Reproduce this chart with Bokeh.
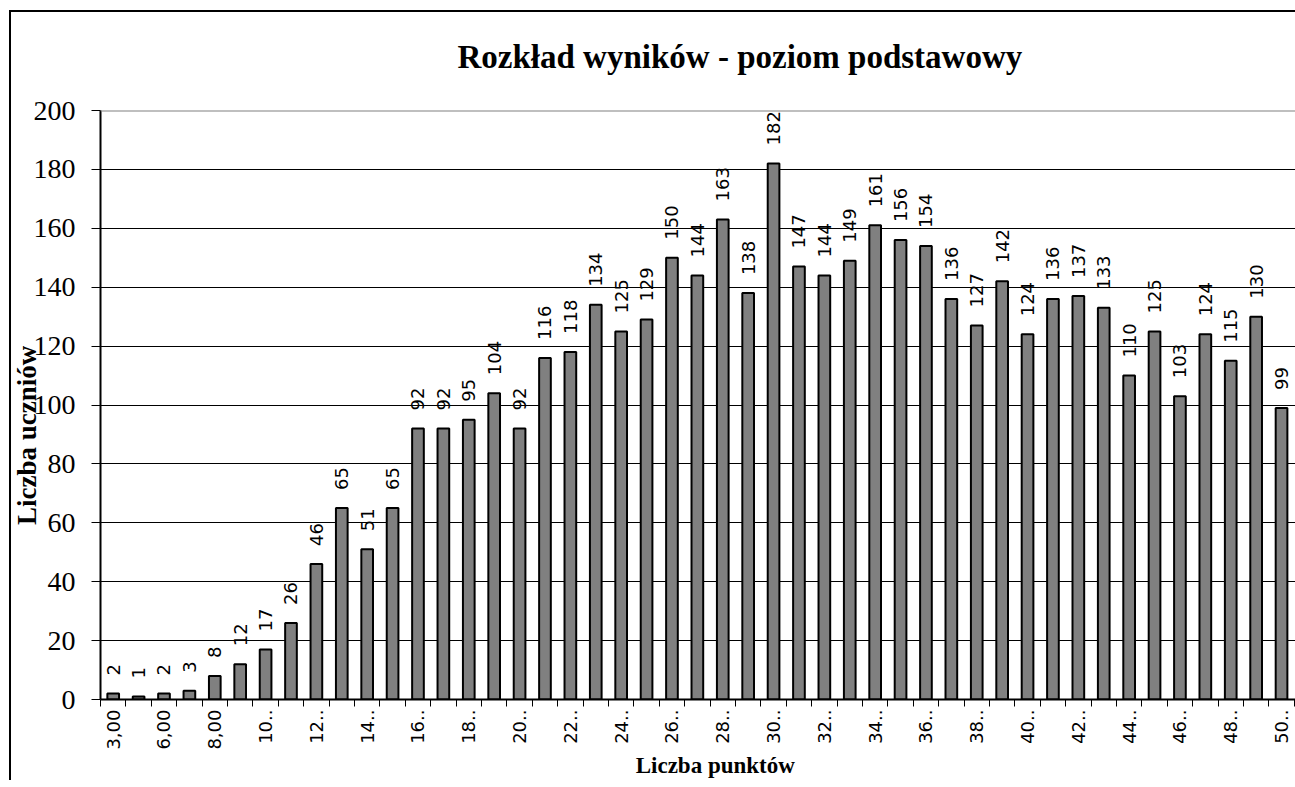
import math
from bokeh.plotting import figure
from bokeh.models import FixedTicker, Span, ColumnDataSource, Range1d, Title
from bokeh.embed import file_html
from bokeh.resources import INLINE
from bokeh.core.properties import value

# ---- data ----
categories = ["3,00", "4,00", "6,00", "7,00", "8,00", "9,00", "10,00", "11,00", "12,00", "13,00",
              "14,00", "15,00", "16,00", "17,00", "18,00", "19,00", "20,00", "21,00", "22,00", "23,00",
              "24,00", "25,00", "26,00", "27,00", "28,00", "29,00", "30,00", "31,00", "32,00", "33,00",
              "34,00", "35,00", "36,00", "37,00", "38,00", "39,00", "40,00", "41,00", "42,00", "43,00",
              "44,00", "45,00", "46,00", "47,00", "48,00", "49,00", "50,00"]
counts = [2, 1, 2, 3, 8, 12, 17, 26, 46, 65, 51, 65, 92, 92, 95, 104, 92, 116, 118, 134,
          125, 129, 150, 144, 163, 138, 182, 147, 144, 149, 161, 156, 154, 136, 127, 142, 124,
          136, 137, 133, 110, 125, 103, 124, 115, 130, 99]
tick_labels = ["3,00", "6,00", "8,00", "10..", "12..", "14..", "16..", "18..", "20..", "22..",
               "24..", "26..", "28..", "30..", "32..", "34..", "36..", "38..", "40..", "42..",
               "44..", "46..", "48..", "50.."]
y_ticks = [0, 20, 40, 60, 80, 100, 120, 140, 160, 180, 200]

title_text = "Rozkład wyników -  poziom podstawowy"
x_title = "Liczba punktów"
y_title = "Liczba uczniów"

# ---- positions ----
n = len(categories)
xs = list(range(1, n + 1))
label_pos = xs[::2]
boundaries = [i + 0.5 for i in range(0, n + 1)]

W, H = 1295, 780
p = figure(width=W, height=H, output_backend="svg", toolbar_location=None,
           x_range=Range1d(0.5, 47.55), y_range=Range1d(0, 200),
           min_border_left=100, min_border_right=0, min_border_top=110, min_border_bottom=80,
           title=title_text)
# chart-area border (left and top edges), drawn behind the transparent canvas margin
p.styles = {"background-color": "white",
            "background-image": "linear-gradient(black, black), linear-gradient(black, black)",
            "background-size": "2px 100%, 100% 2px",
            "background-position": "9px 10px, 9px 10px",
            "background-repeat": "no-repeat"}
p.border_fill_alpha = 0
p.title.text_font = "Liberation Serif"
p.title.text_font_size = "33px"
p.title.text_font_style = "bold"
p.title.text_color = "black"
p.title.align = "left"
p.title.offset = 357
p.title.standoff = 0
# invisible spacer between title and plot area
p.add_layout(Title(text="\u00a0", text_font_size="10px", standoff=23), "above")
p.outline_line_color = None
p.background_fill_color = "white"

src = ColumnDataSource(dict(x=xs, top=counts, lab=[str(c) for c in counts]))
p.vbar(x="x", top="top", width=0.46, source=src, fill_color="#808080",
       line_color="black", line_width=2)
p.text(x="x", y="top", text="lab", source=src, angle=math.pi / 2, text_align="left",
       text_baseline="middle", y_offset=-18, text_font=value("DejaVu Sans"),
       text_font_size="18px", text_color="black")

# y axis
p.yaxis.ticker = FixedTicker(ticks=y_ticks)
p.yaxis.major_label_text_font = "Liberation Serif"
p.yaxis.major_label_text_font_size = "28px"
p.yaxis.major_label_text_color = "black"
p.yaxis.major_label_standoff = 16
p.yaxis.major_tick_out = 9
p.yaxis.major_tick_in = 0
p.yaxis.minor_tick_out = 0
p.yaxis.minor_tick_in = 0
p.yaxis.major_tick_line_color = "black"
p.yaxis.axis_line_color = "black"
p.yaxis.axis_line_width = 2
p.yaxis.axis_label = y_title + "\u00a0" * 9
p.yaxis.axis_label_text_font = "Liberation Serif"
p.yaxis.axis_label_text_font_size = "27px"
p.yaxis.axis_label_text_font_style = "bold"
p.yaxis.axis_label_text_color = "black"
p.yaxis.axis_label_standoff = -11

p.ygrid.ticker = FixedTicker(ticks=y_ticks[1:-1])
p.ygrid.grid_line_color = "black"
p.ygrid.grid_line_width = 1
p.xgrid.visible = False
p.add_layout(Span(location=200, dimension="width", line_color="#808080", line_width=2))

# x axis
p.xaxis.ticker = FixedTicker(ticks=label_pos, minor_ticks=boundaries)
p.xaxis.major_label_overrides = {pos: lab for pos, lab in zip(label_pos, tick_labels)}
p.xaxis.major_tick_line_color = None
p.xaxis.major_tick_out = 7
p.xaxis.major_tick_in = 0
p.xaxis.minor_tick_out = 7
p.xaxis.minor_tick_in = 0
p.xaxis.minor_tick_line_color = "black"
p.xaxis.axis_line_color = "black"
p.xaxis.axis_line_width = 2
p.xaxis.major_label_orientation = math.pi / 2
p.xaxis.major_label_standoff = 3
p.xaxis.major_label_text_font = "DejaVu Sans"
p.xaxis.major_label_text_font_size = "18px"
p.xaxis.major_label_text_color = "black"
p.xaxis.axis_label = "\u00a0" * 6 + x_title
p.xaxis.axis_label_text_font = "Liberation Serif"
p.xaxis.axis_label_text_font_size = "23px"
p.xaxis.axis_label_text_font_style = "bold"
p.xaxis.axis_label_text_color = "black"
p.xaxis.axis_label_standoff = 0

open("out.html", "w").write(file_html(p, INLINE))
